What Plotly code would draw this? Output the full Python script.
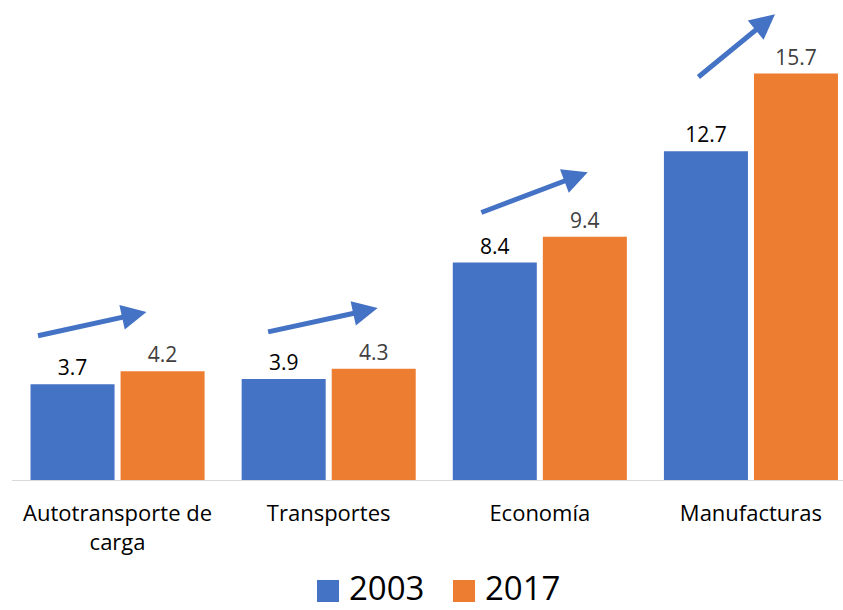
import plotly.graph_objects as go

categories = ["Autotransporte de<br>carga", "Transportes", "Economía", "Manufacturas"]
values_2003 = [3.7, 3.9, 8.4, 12.7]
values_2017 = [4.2, 4.3, 9.4, 15.7]

BLUE = "#4472C4"
ORANGE = "#ED7D31"
FONT = "Open Sans"

fig = go.Figure()

fig.add_trace(
    go.Bar(
        x=categories,
        y=values_2003,
        name="2003",
        marker=dict(color=BLUE, line=dict(width=0)),
        text=[f"{v:.1f}" for v in values_2003],
        textposition="outside",
        textfont=dict(size=21, color="#000000", family=FONT),
        cliponaxis=False,
    )
)
fig.add_trace(
    go.Bar(
        x=categories,
        y=values_2017,
        name="2017",
        marker=dict(color=ORANGE, line=dict(width=0)),
        text=[f"{v:.1f}" for v in values_2017],
        textposition="outside",
        textfont=dict(size=21, color="#404040", family=FONT),
        cliponaxis=False,
    )
)

# trend arrows above each group: (tail x, tail y, head x, head y) as offsets in category units
arrows = [
    (-0.384, 5.56, 0.137, 6.49),
    (-0.294, 5.71, 0.232, 6.64),
    (-0.284, 10.31, 0.227, 11.89),
    (-0.256, 15.52, 0.114, 17.99),
]
for i, (tx, ty, hx, hy) in enumerate(arrows):
    fig.add_annotation(
        x=i + hx, y=hy, ax=i + tx, ay=ty,
        xref="x", yref="y", axref="x", ayref="y",
        text="", showarrow=True,
        arrowhead=2, arrowsize=1.0, arrowwidth=5, arrowcolor=BLUE,
    )

# legend drawn by hand so the swatches can be large
legend_items = [("2003", BLUE, 0.367), ("2017", ORANGE, 0.5307)]
for name, color, x0 in legend_items:
    fig.add_shape(
        type="rect", xref="paper", yref="paper",
        x0=x0, x1=x0 + 0.0265, y0=-0.2618, y1=-0.2146,
        fillcolor=color, line=dict(width=0),
    )
    fig.add_annotation(
        x=x0 + 0.036, y=-0.231, xref="paper", yref="paper",
        xanchor="left", yanchor="middle", showarrow=False,
        text=name, font=dict(size=33, color="#000000", family=FONT),
    )

fig.update_layout(
    width=843,
    height=610,
    margin=dict(l=12, r=0, t=14, b=130, autoexpand=False),
    plot_bgcolor="white",
    paper_bgcolor="white",
    barmode="group",
    bargap=0.147,
    bargroupgap=0.067,
    font=dict(family=FONT, color="#000000"),
    showlegend=False,
)
fig.update_xaxes(
    type="category",
    range=[-0.5, 3.436],
    automargin=False,
    showgrid=False,
    showline=True,
    linecolor="#D9D9D9",
    linewidth=1,
    ticks="",
    ticklabelstandoff=14,
    tickfont=dict(size=22, color="#000000", family=FONT),
)
fig.update_yaxes(
    range=[0, 18],
    automargin=False,
    showgrid=False,
    showticklabels=False,
    zeroline=False,
    showline=False,
)

# drop the default page margin so the figure fills the window exactly
fig.write_html(
    "out.html",
    config={"displayModeBar": False},
    post_script="document.body.style.margin='0';document.body.style.overflow='hidden';",
)
